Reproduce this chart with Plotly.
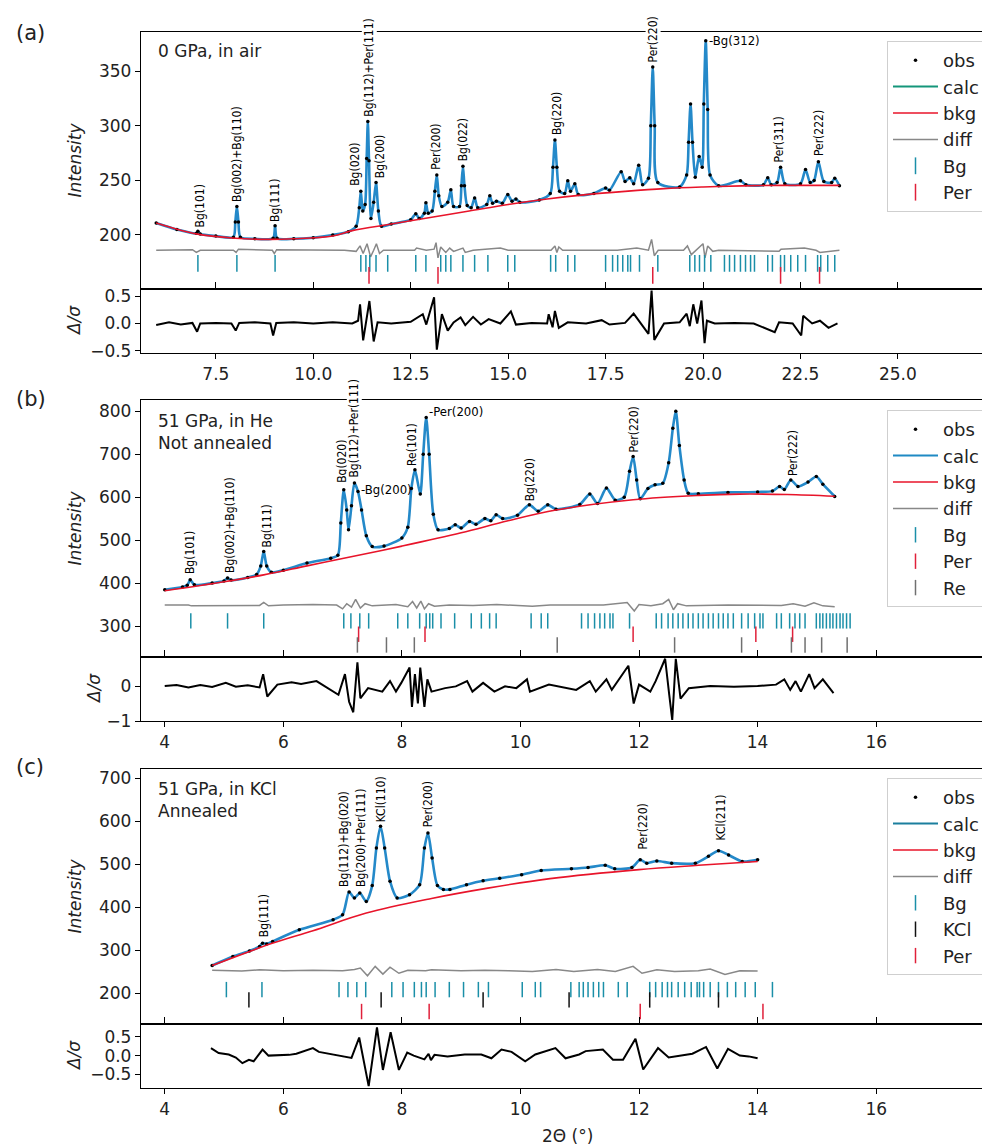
import plotly.graph_objects as go

W, H = 990, 1145

# ---------------- Panel (a): 0 GPa, in air ----------------
a_x = [5.97, 6.5, 7.0, 7.04, 7.1, 7.5, 7.95, 8.0, 8.04, 8.08, 8.13, 8.5, 8.97, 9.02, 9.07, 9.5, 10.0, 10.5, 10.9,
       11.1, 11.18, 11.22, 11.27, 11.33, 11.37, 11.40, 11.43, 11.48, 11.55, 11.61, 11.67, 11.75, 12.0, 12.5, 12.63,
       12.72, 12.85, 12.89, 12.95, 13.05, 13.12, 13.17, 13.22, 13.3, 13.45, 13.53, 13.6, 13.75, 13.8, 13.84, 13.88,
       13.95, 14.05, 14.14, 14.22, 14.45, 14.53, 14.6, 14.7, 14.85, 14.99, 15.1, 15.2, 15.3, 15.8, 16.08, 16.15,
       16.2, 16.25, 16.32, 16.45, 16.53, 16.6, 16.71, 16.8, 17.2, 17.5, 17.6, 17.9, 18.0, 18.12, 18.22, 18.35,
       18.45, 18.6, 18.66, 18.71, 18.76, 18.84, 19.4, 19.58, 19.63, 19.68, 19.73, 19.8, 19.9, 19.98, 20.02, 20.07,
       20.12, 20.18, 20.4, 20.96, 21.1, 21.55, 21.66, 21.75, 21.9, 21.99, 22.1, 22.5, 22.63, 22.75, 22.85, 22.96,
       23.1, 23.3, 23.38, 23.5]
a_calc = [211, 205, 201.5, 203.5, 201, 199, 198, 212, 226, 212, 198, 196.5, 197, 208.5, 197, 196.5, 197.5, 200, 203,
          208, 225, 240, 222, 228, 270, 304, 268, 215, 230, 248, 222, 208, 210, 214, 219.5,
          215, 220, 229.6, 220, 222, 240, 255, 236, 226, 230, 241.5, 226, 226, 245, 263, 245,
          227, 225, 234, 225, 228, 236, 229, 231, 229, 237, 231, 233, 230, 232, 238, 262,
          287, 262, 240, 238, 249.7, 240, 247, 237, 238, 243, 241, 258, 249, 252.5, 247, 264,
          246, 252, 300, 354, 300, 248, 244, 255, 285, 320, 285, 253, 272, 262, 320, 378,
          315, 255, 245, 249.6, 246, 246, 252.5, 246, 248, 262, 247, 247, 260, 248, 250, 267,
          249, 248, 252, 245]
a_obs = a_calc
a_bkg_x = [5.97, 7.0, 8.0, 8.8, 9.5, 10.5, 11.0, 12.0, 13.0, 14.0, 15.0, 16.0, 17.0, 18.0, 19.0, 20.0, 21.0, 22.0, 23.5]
a_bkg = [211, 201, 197, 196, 196.5, 199, 204, 210, 216, 222, 228, 233, 237, 240, 242.5, 244, 245, 245.5, 245.5]
a_diff_x = [5.97, 6.9, 7.0, 7.1, 7.95, 8.02, 8.08, 8.95, 9.0, 9.06, 10.8, 11.1, 11.2, 11.28, 11.38, 11.47, 11.55,
            11.62, 11.7, 11.8, 12.6, 12.65, 12.9, 13.1, 13.15, 13.2, 13.27, 13.4, 13.5, 13.6, 13.84, 13.9, 14.1,
            14.5, 14.8, 15.0, 16.1, 16.2, 16.25, 16.3, 16.4, 17.8, 18.3, 18.6, 18.68, 18.75, 18.85, 19.5, 19.6,
            19.7, 19.9, 20.0, 20.05, 20.12, 20.25, 20.4, 21.95, 22.0, 22.6, 22.9, 23.0, 23.5]
a_diff = [186, 186.5, 184, 186, 186, 184, 187, 186, 183, 186.5, 186, 185, 190, 183, 192, 180, 186,
          192, 183, 186, 186, 188, 186, 187, 193, 179, 189, 184, 188, 185, 188, 184, 186,
          187, 188, 186, 186, 190, 184, 189, 186, 186, 188, 186, 196, 181, 186, 186, 190,
          182, 189, 192, 179, 190, 185, 186, 185, 187, 188, 186, 184, 186]
a_res_x = [5.97, 6.3, 6.6, 6.9, 7.02, 7.1, 7.5, 7.9, 8.01, 8.1, 8.5, 8.9, 8.97, 9.05, 9.5, 10.0, 10.5, 11.0, 11.15,
           11.2, 11.28, 11.44, 11.55, 11.65, 12.0, 12.5, 12.81, 12.9, 13.1, 13.17, 13.3, 13.45, 13.6, 13.78, 13.9,
           14.1, 14.3, 14.5, 14.8, 15.07, 15.2, 15.6, 16.0, 16.04, 16.14, 16.2, 16.3, 16.53, 17.0, 17.4, 17.6,
           18.0, 18.22, 18.4, 18.6, 18.68, 18.75, 19.0, 19.4, 19.58, 19.66, 19.75, 19.85, 19.96, 20.04, 20.1,
           20.3, 20.8, 21.3, 21.84, 21.95, 22.3, 22.52, 22.57, 22.8, 23.0, 23.22, 23.45]
a_res = [-0.03, 0.02, -0.02, 0.01, -0.15, 0.0, 0.01, 0.0, -0.13, 0.01, 0.02, 0.0, -0.22, 0.01, 0.02, 0.0, 0.02, 0.0, 0.05,
         0.35, -0.31, 0.41, -0.33, 0.02, 0.0, 0.03, 0.17, -0.02, 0.48, -0.48, 0.17, -0.13, 0.02, 0.11, -0.03,
         0.12, -0.02, 0.08, 0.0, 0.22, -0.02, 0.01, 0.0, 0.17, -0.07, 0.23, -0.08, 0.02, 0.0, 0.06, -0.02,
         0.01, 0.18, 0.0, -0.19, 0.6, -0.3, 0.0, 0.02, 0.18, -0.05, 0.35, 0.0, 0.42, -0.36, 0.05,
         0.0, 0.01, 0.0, -0.16, 0.02, 0.0, -0.22, 0.14, 0.0, 0.05, -0.08, 0.0]
a_bg_ticks = [7.04, 8.04, 9.02, 11.22, 11.35, 11.45, 11.61, 11.91, 12.63, 12.89, 13.27, 13.40, 13.53, 13.84, 14.14,
              14.48, 14.99, 15.17, 16.09, 16.22, 16.53, 16.71, 17.50, 17.68, 17.81, 17.94, 18.07, 18.14, 18.37,
              18.84, 19.66, 19.79, 19.91, 20.04, 20.20, 20.55, 20.68, 20.81, 20.96, 21.09, 21.22, 21.32, 21.66,
              21.78, 21.99, 22.09, 22.25, 22.43, 22.63, 22.94, 23.02, 23.20, 23.38]
a_per_ticks = [11.43, 13.2, 18.71, 21.99, 22.99]
a_labels = [("Bg(101)", 7.08, 206), ("Bg(002)+Bg(110)", 8.06, 229), ("Bg(111)", 9.03, 211),
            ("Bg(020)", 11.08, 244), ("Bg(112)+Per(111)", 11.43, 307), ("Bg(200)", 11.72, 251),
            ("Per(200)", 13.15, 259), ("Bg(022)", 13.84, 267), ("Bg(220)", 16.25, 291),
            ("Per(220)", 18.71, 357), ("Per(311)", 21.96, 266), ("Per(222)", 22.99, 271)]
a_hlabels = [("-Bg(312)", 20.12, 378)]

# ---------------- Panel (b): 51 GPa, in He ----------------
b_x = [4.0, 4.3, 4.38, 4.43, 4.5, 4.8, 5.0, 5.06, 5.12, 5.4, 5.55, 5.62, 5.67, 5.72, 5.8, 6.0, 6.4, 6.8, 6.92, 6.97,
       7.02, 7.07, 7.1, 7.15, 7.2, 7.26, 7.32, 7.4, 7.5, 7.7, 8.0, 8.1, 8.16, 8.22, 8.31, 8.36, 8.41, 8.46, 8.53,
       8.61, 8.8, 8.9, 9.0, 9.14, 9.25, 9.4, 9.5, 9.59, 9.7, 9.95, 10.15, 10.3, 10.46, 10.6, 11.0, 11.17, 11.3,
       11.45, 11.6, 11.75, 11.84, 11.9, 11.96, 12.02, 12.15, 12.27, 12.4, 12.5, 12.57, 12.62, 12.68, 12.76,
       12.83, 13.0, 13.5, 14.0, 14.25, 14.37, 14.45, 14.56, 14.68, 14.85, 14.99, 15.1, 15.3]
b_calc = [384.5, 391, 395, 407.7, 396, 400, 405, 411.6, 407, 413, 420, 440, 473.7, 440, 425, 430, 446.5, 458, 465, 540,
          617, 570, 524, 580, 632.6, 613, 570, 510, 485, 486, 505, 530, 620, 663.5, 607, 700, 785, 700, 560,
          524, 527, 535.6, 528, 543.5, 537, 550, 545, 559, 550, 558, 582, 567, 582, 572, 583, 607, 585,
          621, 593, 600, 660, 694.6, 640, 596, 620, 628.6, 632, 680, 760, 800, 720, 640,
          609, 608, 611, 612, 614, 625, 618, 640, 625, 635, 648, 630, 601.6]
b_obs = b_calc
b_bkg_x = [4.0, 5.0, 5.67, 6.4, 7.0, 8.0, 9.0, 9.79, 10.6, 11.9, 13.0, 13.7, 14.5, 15.3]
b_bkg = [382, 403, 419, 440, 457, 486, 517, 545, 570, 594, 604, 607, 606, 602]
b_diff_x = [4.0, 4.4, 4.45, 5.0, 5.6, 5.67, 5.75, 6.0, 6.5, 6.9, 7.0, 7.07, 7.15, 7.22, 7.3, 7.38, 7.5, 7.9, 8.1,
            8.18, 8.25, 8.32, 8.38, 8.45, 8.55, 8.8, 9.2, 9.6, 10.1, 10.2, 10.5, 11.2, 11.4, 11.8, 11.92, 12.0,
            12.2, 12.4, 12.5, 12.58, 12.65, 12.8, 13.5, 14.4, 14.6, 14.8, 14.95, 15.1, 15.3]
b_diff = [349, 349, 347, 348, 348, 355, 347, 349, 350, 349, 340, 352, 344, 362, 342, 352, 347, 350, 345,
          357, 342, 358, 340, 352, 346, 349, 348, 350, 348, 346, 349, 348, 349, 355, 335, 350,
          347, 352, 362, 338, 352, 347, 349, 348, 352, 346, 354, 347, 345]
b_res_x = [4.0, 4.2, 4.4, 4.6, 4.8, 5.03, 5.2, 5.4, 5.6, 5.66, 5.73, 5.9, 6.14, 6.3, 6.56, 6.79, 6.93, 7.04, 7.11,
           7.18, 7.25, 7.30, 7.43, 7.67, 7.80, 7.90, 7.99, 8.13, 8.17, 8.22, 8.27, 8.31, 8.38, 8.43, 8.50, 8.73,
           8.91, 9.10, 9.19, 9.37, 9.56, 9.74, 9.93, 10.11, 10.16, 10.48, 10.94, 11.17, 11.27, 11.45, 11.54,
           11.82, 11.91, 12.0, 12.19, 12.28, 12.44, 12.51, 12.56, 12.62, 12.70, 12.84, 13.2, 13.6, 14.0, 14.31,
           14.45, 14.55, 14.64, 14.73, 14.87, 14.96, 15.1, 15.28]
b_res = [0.0, 0.03, -0.04, 0.03, -0.03, 0.09, -0.02, 0.02, -0.04, 0.34, -0.3, 0.04, 0.11, 0.06, 0.14, -0.1, -0.25, 0.34,
         -0.45, -0.75, 0.68, -0.35, -0.06, -0.16, 0.14, -0.16, 0.09, 0.53, -0.6, 0.34, -0.5, 0.53, -0.6, 0.19,
         -0.16, -0.06, -0.01, 0.14, -0.16, 0.09, -0.16, -0.01, -0.06, 0.19, -0.16, 0.04, -0.11, 0.14, -0.16,
         0.19, -0.11, 0.58, -0.5, 0.04, -0.16, 0.14, 0.78, -0.26, -0.97, 0.78, -0.36, -0.06, 0.0, -0.02, 0.0, 0.04,
         0.19, -0.11, 0.14, -0.16, 0.34, -0.06, 0.19, -0.2]
b_bg_ticks = [4.44, 5.06, 5.67, 7.02, 7.14, 7.29, 7.44, 7.93, 8.10, 8.30, 8.41, 8.47, 8.52, 8.66, 8.89, 9.17, 9.34,
              9.48, 9.59, 10.18, 10.35, 10.46, 11.03, 11.14, 11.25, 11.34, 11.42, 11.51, 11.56, 11.84, 12.29,
              12.38, 12.49, 12.57, 12.66, 12.74, 12.83, 12.91, 13.0, 13.08, 13.17, 13.25, 13.34, 13.42, 13.5,
              13.59, 13.73, 13.84, 13.95, 14.04, 14.09, 14.32, 14.4, 14.54, 14.63, 14.71, 14.8, 14.99, 15.05,
              15.1, 15.16, 15.22, 15.27, 15.33, 15.39, 15.44, 15.5, 15.56]
b_per_ticks = [7.27, 8.39, 11.9, 13.97, 14.59]
b_re_ticks = [7.25, 7.74, 8.21, 10.62, 12.6, 13.73, 14.57, 14.8, 15.08, 15.51]
b_labels = [("Bg(101)", 4.43, 418), ("Bg(002)+Bg(110)", 5.09, 422), ("Bg(111)", 5.73, 480),
            ("Bg(020)", 6.99, 632), ("Bg(112)+Per(111)", 7.2, 643), ("Re(101)", 8.16, 670),
            ("Bg(220)", 10.16, 589), ("Per(220)", 11.91, 701), ("Per(222)", 14.6, 647)]
b_hlabels = [("-Bg(200)", 7.3, 617), ("-Per(200)", 8.44, 800)]

# ---------------- Panel (c): 51 GPa, in KCl ----------------
c_x = [4.8, 5.15, 5.43, 5.6, 5.65, 5.72, 5.82, 6.27, 6.84, 7.0, 7.11, 7.2, 7.29, 7.4, 7.5, 7.57, 7.64, 7.71, 7.8,
       7.92, 8.13, 8.3, 8.38, 8.44, 8.51, 8.6, 8.7, 8.81, 9.09, 9.37, 9.65, 10.02, 10.35, 10.86, 11.14, 11.43,
       11.59, 11.88, 12.02, 12.13, 12.3, 12.55, 12.95, 13.17, 13.34, 13.51, 13.74, 14.0]
c_calc = [264, 285, 298, 308, 316, 314, 320, 347, 370.5, 382, 435, 421, 432.6, 413, 450, 537, 588, 537, 460,
          421, 428.6, 452, 537, 572, 514, 450, 441, 441, 452, 461, 467, 475, 485, 489, 492, 497,
          489, 492, 510, 502, 507, 502, 502, 518, 531, 521, 506, 510]
c_obs = c_calc
c_bkg_x = [4.8, 5.8, 6.5, 7.4, 8.5, 9.45, 10.5, 12.0, 13.0, 14.0]
c_bkg = [264, 315, 345, 386, 420, 444, 466, 487, 497, 506]
c_diff_x = [4.8, 5.3, 5.6, 6.0, 6.5, 7.0, 7.2, 7.3, 7.42, 7.55, 7.68, 7.8, 7.95, 8.1, 8.4, 8.5, 9.0, 9.4, 9.8, 10.2,
            10.6, 10.9, 11.3, 11.6, 11.9, 12.05, 12.3, 12.6, 13.0, 13.2, 13.45, 13.7, 14.0]
c_diff = [253, 251, 254, 252, 253, 252, 255, 258, 240, 262, 244, 260, 246, 253, 252, 254, 252, 253, 252, 250,
          255, 250, 255, 250, 262, 246, 254, 250, 252, 256, 243, 252, 251]
c_res_x = [4.78, 4.91, 5.08, 5.2, 5.31, 5.42, 5.5, 5.65, 5.75, 5.93, 6.1, 6.22, 6.5, 6.6, 6.78, 7.01, 7.15, 7.28,
           7.44, 7.58, 7.68, 7.81, 7.95, 8.09, 8.2, 8.38, 8.45, 8.49, 8.55, 8.77, 9.06, 9.34, 9.51, 9.68, 9.85,
           10.08, 10.25, 10.59, 10.76, 10.99, 11.1, 11.39, 11.56, 11.73, 11.94, 12.07, 12.32, 12.5, 12.7, 12.9,
           13.13, 13.32, 13.5, 13.7, 13.85, 14.0]
c_res = [0.2, 0.07, 0.03, -0.05, -0.2, -0.11, -0.15, 0.16, 0.0, 0.0, 0.02, 0.05, 0.2, 0.1, 0.05, -0.02, -0.06, 0.48,
         -0.81, 0.75, -0.38, 0.62, -0.38, 0.08, 0.0, -0.1, 0.05, -0.12, 0.02, -0.02, 0.03, 0.03, -0.07, 0.16, 0.1,
         -0.15, 0.03, 0.2, -0.07, 0.03, 0.12, 0.16, -0.11, -0.11, 0.45, -0.37, 0.2, -0.05, 0.0, 0.05,
         0.23, -0.34, 0.18, 0.0, -0.02, -0.07]
c_bg_ticks = [5.04, 5.64, 6.94, 7.09, 7.24, 7.39, 7.83, 8.02, 8.21, 8.33, 8.41, 8.56, 8.80, 9.04, 9.29, 9.46,
              10.03, 10.25, 10.34, 10.85, 10.99, 11.06, 11.14, 11.23, 11.32, 11.40, 11.65, 11.80, 12.18, 12.28,
              12.39, 12.48, 12.55, 12.66, 12.77, 12.88, 12.98, 13.02, 13.09, 13.2, 13.34, 13.49, 13.63, 13.79,
              13.96, 14.25]
c_kcl_ticks = [5.42, 7.65, 9.37, 10.82, 12.18, 13.34]
c_per_ticks = [7.32, 8.46, 12.02, 14.09]
c_labels = [("Bg(111)", 5.68, 327), ("Bg(112)+Bg(020)", 7.02, 444), ("Bg(200)+Per(111)", 7.3, 444),
            ("KCl(110)", 7.65, 595), ("Per(200)", 8.44, 583), ("Per(220)", 12.07, 532), ("KCl(211)", 13.38, 552)]

# ---------------- styling ----------------
CALC = "#2489c9"
BKG = "#e8142a"
DIFF = "#888888"
BGC = "#1a8fa8"
PERC = "#e0203a"
REC = "#707070"
KCLC = "#111111"
FONT = "DejaVu Sans"
LBLFONT = dict(family="DejaVu Sans Condensed, DejaVu Sans", size=12, color="black")

XL, XR = 133 / W, 985 / W


def ydom(top, bot):
    return [1 - bot / H, 1 - top / H]


fig = go.Figure()


def panel(n, xs, calc, obs, bkx, bk, dfx, df, rx, rv, ticksets, legname, calc_leg_color):
    mx = "x" if n == 1 else f"x{2*n-1}"
    my = "y" if n == 1 else f"y{2*n-1}"
    rxx = f"x{2*n}"
    ryy = f"y{2*n}"
    fig.add_trace(go.Scatter(x=xs, y=calc, mode="lines", line=dict(color=CALC, width=2.6, shape="spline", smoothing=0.7),
                             xaxis=mx, yaxis=my, showlegend=False, legend=legname))
    fig.add_trace(go.Scatter(x=xs, y=obs, mode="markers", marker=dict(color="black", size=3.5), name="obs",
                             xaxis=mx, yaxis=my, legend=legname))
    fig.add_trace(go.Scatter(x=[None], y=[None], mode="lines", line=dict(color=calc_leg_color, width=2), name="calc",
                             xaxis=mx, yaxis=my, legend=legname))
    fig.add_trace(go.Scatter(x=bkx, y=bk, mode="lines", line=dict(color=BKG, width=1.6, shape="spline"), name="bkg",
                             xaxis=mx, yaxis=my, legend=legname))
    fig.add_trace(go.Scatter(x=dfx, y=df, mode="lines", line=dict(color=DIFF, width=1.5), name="diff",
                             xaxis=mx, yaxis=my, legend=legname))
    for name, pos, lev, col, sz in ticksets:
        fig.add_trace(go.Scatter(x=pos, y=[lev] * len(pos), mode="markers", name=name,
                                 marker=dict(symbol="line-ns", size=sz, line=dict(width=1.5, color=col)),
                                 xaxis=mx, yaxis=my, legend=legname))
    fig.add_trace(go.Scatter(x=rx, y=rv, mode="lines", line=dict(color="black", width=2), showlegend=False,
                             xaxis=rxx, yaxis=ryy))


panel(1, a_x, a_calc, a_obs, a_bkg_x, a_bkg, a_diff_x, a_diff, a_res_x, a_res,
      [("Bg", a_bg_ticks, 174, BGC, 12), ("Per", a_per_ticks, 163, PERC, 12)], "legend", "#14967a")
panel(2, b_x, b_calc, b_obs, b_bkg_x, b_bkg, b_diff_x, b_diff, b_res_x, b_res,
      [("Bg", b_bg_ticks, 312, BGC, 11), ("Per", b_per_ticks, 281, PERC, 11), ("Re", b_re_ticks, 256, REC, 11)],
      "legend2", "#1f8ac4")
panel(3, c_x, c_calc, c_obs, c_bkg_x, c_bkg, c_diff_x, c_diff, c_res_x, c_res,
      [("Bg", c_bg_ticks, 208, BGC, 11), ("KCl", c_kcl_ticks, 184, KCLC, 11), ("Per", c_per_ticks, 157, PERC, 11)],
      "legend3", "#1b7f9e")

axbase = dict(showline=True, linecolor="black", linewidth=1.3, mirror=True, showgrid=False, zeroline=False,
              tickfont=dict(family=FONT, size=17, color="#222"), tickcolor="black", ticklen=5, tickwidth=1.2)

xa_rng = [5.58, 27.44]
xb_rng = [3.6, 17.97]
a_xt = [7.5, 10.0, 12.5, 15.0, 17.5, 20.0, 22.5, 25.0]
bc_xt = [4, 6, 8, 10, 12, 14, 16]

doms = [(24, 281, 281, 345), (392, 649, 649, 713), (761, 1016, 1016, 1080)]
yr_main = [[150.5, 386], [228, 826], [128, 721]]
yr_res = [[-0.54, 0.63], [-1.0, 0.83], [-0.86, 0.84]]
y_main_t = [[200, 250, 300, 350], [300, 400, 500, 600, 700, 800], [200, 300, 400, 500, 600, 700]]
y_res_t = [[-0.5, 0.0, 0.5], [-1, 0], [-0.5, 0.0, 0.5]]
y_res_fmt = [".1f", "d", ".1f"]

lay = {}
for i in range(3):
    n = i + 1
    mk = "xaxis" if n == 1 else f"xaxis{2*n-1}"
    myk = "yaxis" if n == 1 else f"yaxis{2*n-1}"
    rk = f"xaxis{2*n}"
    ryk = f"yaxis{2*n}"
    rng = xa_rng if n == 1 else xb_rng
    xt = a_xt if n == 1 else bc_xt
    t0, b0, t1, b1 = doms[i]
    my_name = "y" if n == 1 else f"y{2*n-1}"
    mx_name = "x" if n == 1 else f"x{2*n-1}"
    lay[mk] = dict(axbase, domain=[XL, XR], range=rng, tickvals=xt, showticklabels=False, ticks="inside",
                   ticklen=7, anchor=my_name)
    lay[myk] = dict(axbase, domain=ydom(t0, b0), range=yr_main[i], tickvals=y_main_t[i], ticks="outside",
                    anchor=mx_name)
    lay[rk] = dict(axbase, domain=[XL, XR], range=rng, tickvals=xt, ticks="outside",
                   tickformat=".1f" if n == 1 else "d", anchor=f"y{2*n}")
    lay[ryk] = dict(axbase, domain=ydom(t1, b1), range=yr_res[i], tickvals=y_res_t[i], ticks="outside",
                    tickformat=y_res_fmt[i], anchor=f"x{2*n}")

legbase = dict(bgcolor="rgba(255,255,255,0.9)", bordercolor="#cfcfcf", borderwidth=1,
               font=dict(family=FONT, size=18, color="#222"), xanchor="right", yanchor="top", x=977 / W,
               tracegroupgap=0, itemwidth=45)
lay["legend"] = dict(legbase, y=1 - 33 / H)
lay["legend2"] = dict(legbase, y=1 - 402 / H)
lay["legend3"] = dict(legbase, y=1 - 770 / H)

ann = []


def add_labels(labels, xr, yr, white_bg=()):
    for text, x, y in labels:
        d = dict(x=x, y=y, xref=xr, yref=yr, text=text, textangle=-90, showarrow=False,
                 xanchor="center", yanchor="bottom", font=LBLFONT, borderpad=0)
        if text in white_bg:
            d["bgcolor"] = "white"
        ann.append(d)


def add_hlabels(labels, xr, yr):
    for text, x, y in labels:
        ann.append(dict(x=x, y=y, xref=xr, yref=yr, text=text, showarrow=False, xanchor="left",
                        yanchor="middle", font=dict(LBLFONT, size=13), borderpad=0))


add_labels(a_labels, "x", "y", white_bg=("Bg(112)+Per(111)", "Per(220)"))
add_hlabels(a_hlabels, "x", "y")
add_labels(b_labels, "x3", "y3", white_bg=("Bg(112)+Per(111)",))
add_hlabels(b_hlabels, "x3", "y3")
add_labels(c_labels, "x5", "y5")

txtfont = dict(family=FONT, size=17, color="#222")
for lab, yc in [("(a)", 25), ("(b)", 391), ("(c)", 759)]:
    ann.append(dict(x=6 / W, y=1 - yc / H, xref="paper", yref="paper", text=lab, showarrow=False,
                    xanchor="left", yanchor="middle", font=dict(family=FONT, size=21, color="#222")))
ann.append(dict(x=148 / W, y=1 - 43 / H, xref="paper", yref="paper", text="0 GPa, in air", showarrow=False,
                xanchor="left", yanchor="middle", font=txtfont))
ann.append(dict(x=148 / W, y=1 - 401 / H, xref="paper", yref="paper", text="51 GPa, in He<br>Not annealed",
                showarrow=False, xanchor="left", yanchor="top", align="left", font=txtfont))
ann.append(dict(x=148 / W, y=1 - 769 / H, xref="paper", yref="paper", text="51 GPa, in KCl<br>Annealed",
                showarrow=False, xanchor="left", yanchor="top", align="left", font=txtfont))
for yc in [152.5, 520.5, 888.5]:
    ann.append(dict(x=66 / W, y=1 - yc / H, xref="paper", yref="paper", text="<i>Intensity</i>", showarrow=False,
                    textangle=-90, xanchor="center", yanchor="middle", font=txtfont))
for xc, yc in [(66, 313), (86, 681), (66, 1048)]:
    ann.append(dict(x=xc / W, y=1 - yc / H, xref="paper", yref="paper", text="<i>Δ/σ</i>", showarrow=False,
                    textangle=-90, xanchor="center", yanchor="middle", font=txtfont))
ann.append(dict(x=559 / W, y=1 - 1140 / H, xref="paper", yref="paper", text="2Θ (°)", showarrow=False,
                xanchor="center", yanchor="bottom", font=txtfont))

fig.update_layout(width=W, height=H, margin=dict(l=0, r=0, t=0, b=0, autoexpand=False),
                  plot_bgcolor="white", paper_bgcolor="white", annotations=ann, **lay)

fig.write_html("out.html")
